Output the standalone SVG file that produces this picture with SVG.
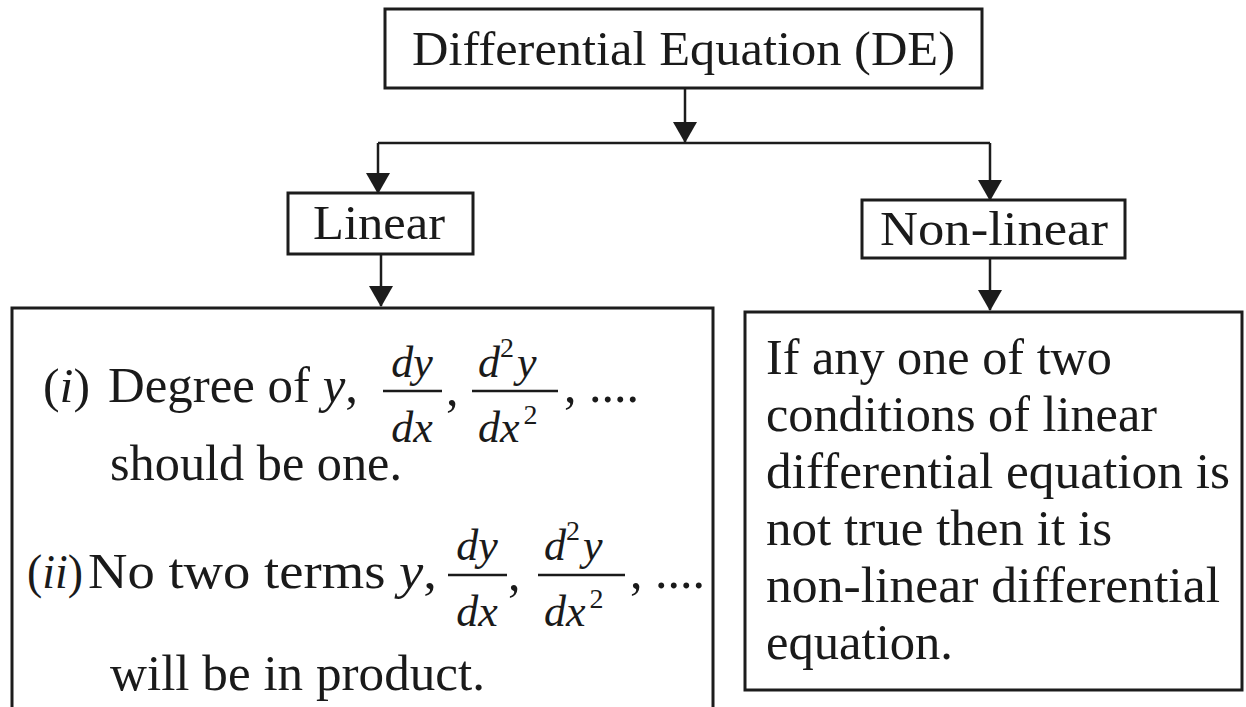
<svg xmlns="http://www.w3.org/2000/svg" width="1246" height="707" viewBox="0 0 1246 707">
<style>
.box{fill:none;stroke:#1c1c1c;stroke-width:3}
.ln{fill:none;stroke:#1c1c1c;stroke-width:2.5}
.t{font-family:"Liberation Serif","Times New Roman",serif;fill:#1a1a1a}
.it{font-style:italic}
.bar{stroke:#1a1a1a;stroke-width:2.4}
.sup{font-style:normal}
</style>
<defs>
<marker id="ah" markerUnits="userSpaceOnUse" markerWidth="21" markerHeight="24" viewBox="0 0 21 24" refX="20" refY="12" orient="auto">
<path d="M0,0 L21,12 L0,24 Z" fill="#1c1c1c"/>
</marker>
</defs>
<rect width="1246" height="707" fill="#ffffff"/>
<g id="connectors">
<line class="ln" x1="685" y1="88" x2="685" y2="142" marker-end="url(#ah)"/>
<line class="ln" x1="378" y1="143" x2="990" y2="143"/>
<line class="ln" x1="378" y1="143" x2="378" y2="193" marker-end="url(#ah)"/>
<line class="ln" x1="990" y1="143" x2="990" y2="200" marker-end="url(#ah)"/>
<line class="ln" x1="381" y1="254" x2="381" y2="306" marker-end="url(#ah)"/>
<line class="ln" x1="990" y1="258" x2="990" y2="310" marker-end="url(#ah)"/>
</g>
<g id="node-de">
<rect class="box" x="385" y="9" width="597" height="79"/>
<text class="t" x="683.5" y="65" font-size="49" text-anchor="middle" textLength="543" lengthAdjust="spacingAndGlyphs">Differential Equation (DE)</text>
</g>
<g id="node-linear">
<rect class="box" x="288" y="193" width="185" height="61"/>
<text class="t" x="379" y="239" font-size="48" text-anchor="middle" textLength="132" lengthAdjust="spacingAndGlyphs">Linear</text>
</g>
<g id="node-nonlinear">
<rect class="box" x="862" y="200" width="263" height="58"/>
<text class="t" x="994" y="245" font-size="48" text-anchor="middle" textLength="228" lengthAdjust="spacingAndGlyphs">Non-linear</text>
</g>
<g id="node-linear-conditions">
<rect class="box" x="12" y="308" width="701" height="420"/>
<text class="t" x="43" y="402" font-size="48" textLength="47" lengthAdjust="spacingAndGlyphs">(<tspan class="it">i</tspan>)</text>
<text class="t" x="108" y="402" font-size="50" textLength="250" lengthAdjust="spacingAndGlyphs">Degree of <tspan class="it">y</tspan>,</text>
<text class="t it" x="412" y="377" font-size="44" text-anchor="middle">dy</text>
<line class="bar" x1="383" y1="391" x2="442" y2="391"/>
<text class="t it" x="412" y="442" font-size="44" text-anchor="middle">dx</text>
<text class="t" x="446" y="405" font-size="50">,</text>
<text class="t it" x="478" y="377" font-size="44">d<tspan class="sup" font-size="28" dy="-20">2</tspan><tspan dy="20" dx="3">y</tspan></text>
<line class="bar" x1="472" y1="391" x2="558" y2="391"/>
<text class="t it" x="478" y="442" font-size="44">dx<tspan class="sup" font-size="28" dy="-18" dx="4">2</tspan></text>
<text class="t" x="564" y="402" font-size="50">, ....</text>
<text class="t" x="110" y="480" font-size="50" textLength="292" lengthAdjust="spacingAndGlyphs">should be one.</text>
<text class="t" x="27" y="588" font-size="48" textLength="56" lengthAdjust="spacingAndGlyphs">(<tspan class="it">ii</tspan>)</text>
<text class="t" x="88" y="588" font-size="50" textLength="349" lengthAdjust="spacingAndGlyphs">No two terms <tspan class="it">y</tspan>,</text>
<text class="t it" x="477" y="560" font-size="44" text-anchor="middle">dy</text>
<line class="bar" x1="448" y1="575" x2="507" y2="575"/>
<text class="t it" x="477" y="626" font-size="44" text-anchor="middle">dx</text>
<text class="t" x="508" y="590" font-size="50">,</text>
<text class="t it" x="544" y="560" font-size="44">d<tspan class="sup" font-size="28" dy="-20">2</tspan><tspan dy="20" dx="3">y</tspan></text>
<line class="bar" x1="538" y1="575" x2="625" y2="575"/>
<text class="t it" x="544" y="626" font-size="44">dx<tspan class="sup" font-size="28" dy="-18" dx="4">2</tspan></text>
<text class="t" x="630" y="588" font-size="50">, ....</text>
<text class="t" x="110" y="690" font-size="50" textLength="375" lengthAdjust="spacingAndGlyphs">will be in product.</text>
</g>
<g id="node-nonlinear-desc">
<rect class="box" x="745" y="312" width="497" height="378"/>
<text class="t" font-size="50" x="766" y="374" textLength="346" lengthAdjust="spacingAndGlyphs">If any one of two</text>
<text class="t" font-size="50" x="766" y="431" textLength="391" lengthAdjust="spacingAndGlyphs">conditions of linear</text>
<text class="t" font-size="50" x="766" y="488" textLength="464" lengthAdjust="spacingAndGlyphs">differential equation is</text>
<text class="t" font-size="50" x="766" y="545" textLength="346" lengthAdjust="spacingAndGlyphs">not true then it is</text>
<text class="t" font-size="50" x="766" y="602" textLength="454" lengthAdjust="spacingAndGlyphs">non-linear differential</text>
<text class="t" font-size="50" x="766" y="659" textLength="187" lengthAdjust="spacingAndGlyphs">equation.</text>
</g>
</svg>
